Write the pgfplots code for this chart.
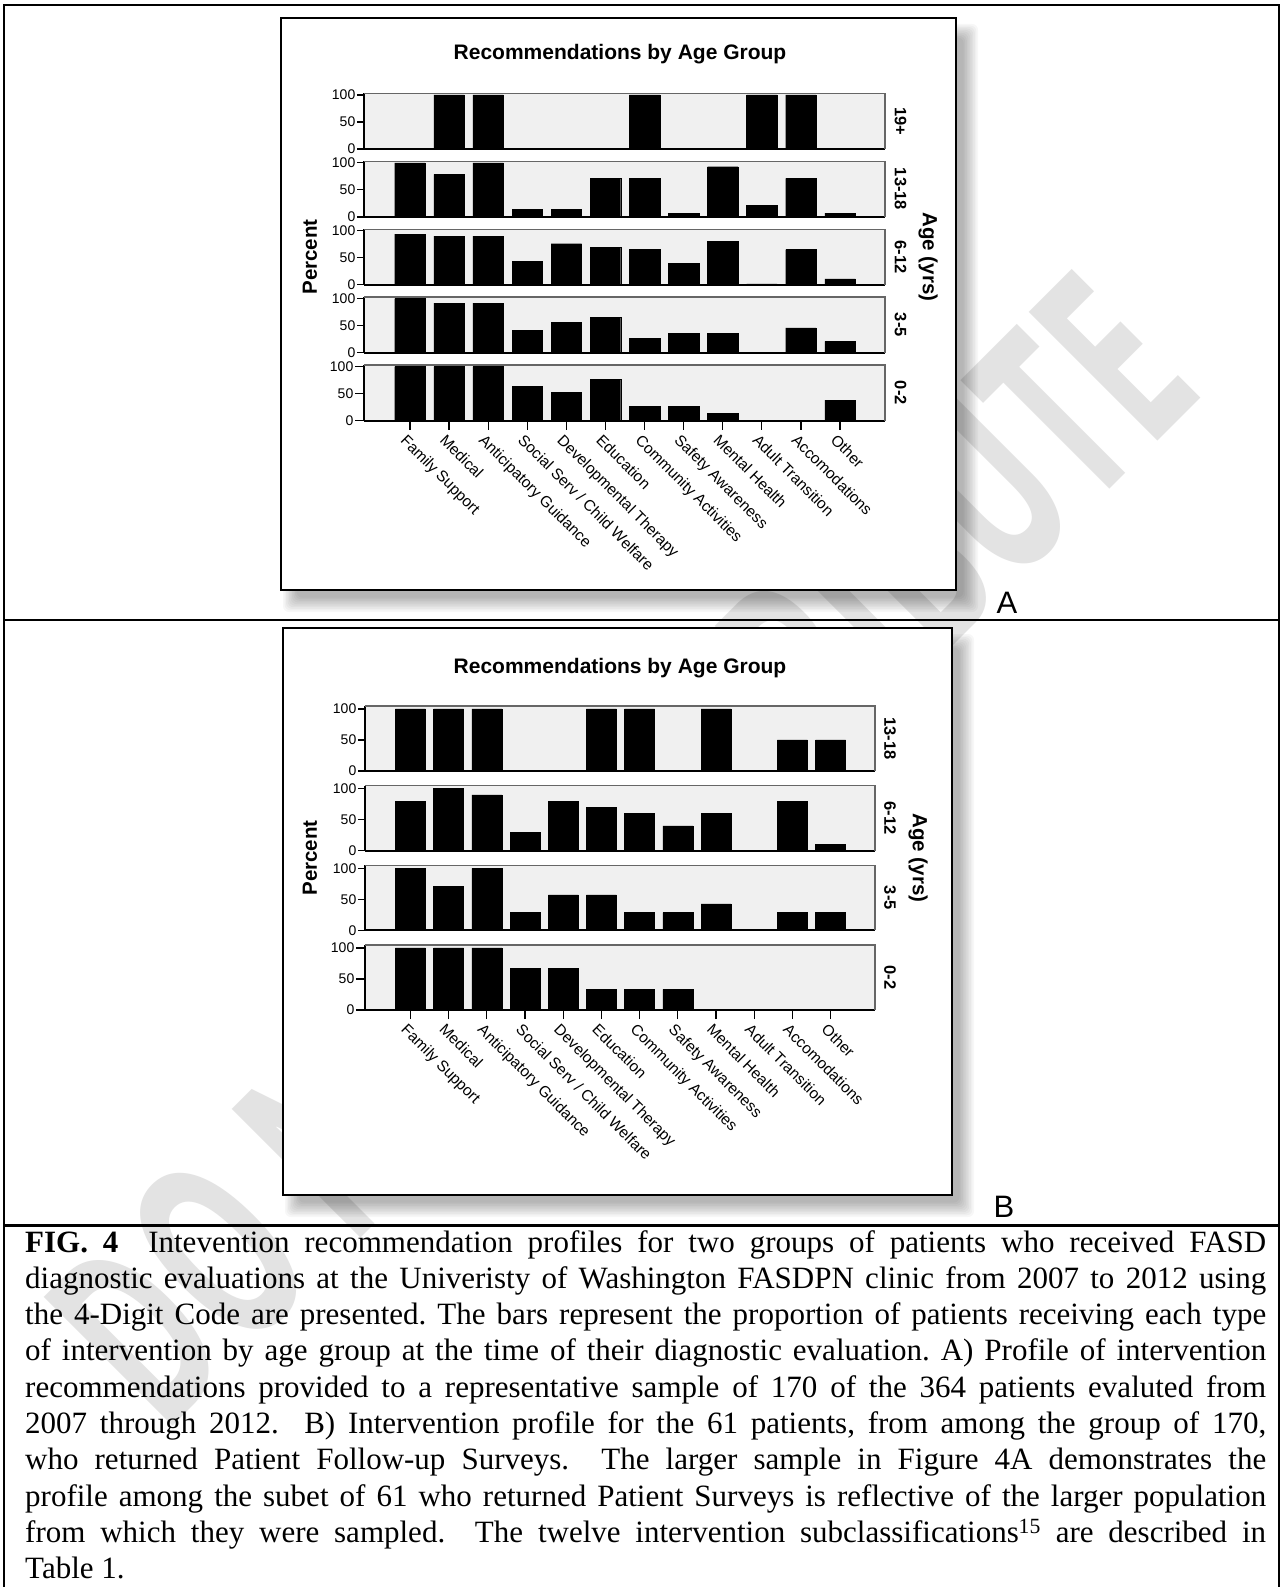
\documentclass[border=0pt]{standalone}
\usepackage{fontspec}
\setmainfont{Liberation Serif}
\newfontfamily\arial{Liberation Sans}
\newfontfamily\wmfont{Open Sans}
\usepackage{graphicx}
\usepackage{pgfplots}
\pgfplotsset{compat=1.18}
\usepackage{pgfplotstable}

% panel A: 170 patients (percent per age group)
\pgfplotstableread{
x  g19  g1318  g612  g35  g02
0  0    100    94    100  100
1  100  78.6   90    92   100
2  100  100    90    92   100
3  0    14.3   43    41   64
4  0    14.3   76    56   52
5  0    71.4   69    66   76
6  100  71.4   65    26   27
7  0    7.1    40    36   27
8  0    92.9   80    36   14
9  100  21.4   1.5   0    0
10 100  71.4   65    46   0
11 0    7.1    11    21   38
}\tabA

% panel B: 61 patients who returned surveys
\pgfplotstableread{
x  g1318  g612  g35   g02
0  100    80    100   100
1  100    100   71.4  100
2  100    90    100   100
3  0      30    28.6  66.7
4  0      80    57.1  66.7
5  100    70    57.1  33.3
6  100    60    28.6  33.3
7  0      40    28.6  33.3
8  100    60    42.9  0
9  0      0     0     0
10 50     80    28.6  0
11 50     10    28.6  0
}\tabB

\pgfplotsset{
  panel/.style={
    scale only axis, anchor=south west,
    ymin=0, ytick={0,50,100},
    axis x line*=bottom, axis y line*=left,
    axis line style={-},
    x axis line style={line width=2pt},
    y axis line style={line width=1.3pt},
    axis background/.style={fill=black!6},
    tick align=outside, major tick length=7pt,
    tick style={black, line width=1.2pt},
    yticklabel style={font=\arial\fontsize{14}{14}\selectfont, inner sep=1.5pt},
    /pgf/number format/assume math mode=true,
    xtick=\empty,
    extra description/.code={\draw[black!60, line width=1.2pt] (rel axis cs:0,1) -- (rel axis cs:1,1) -- (rel axis cs:1,0);},
  },
  panelA/.style={panel, width=521pt, height=55.7pt, xmin=-1.176, xmax=12.15, ymax=103.1},
  panelB/.style={panel, width=510pt, height=65pt, xmin=-1.19, xmax=12.16, ymax=104.8},
  cats/.style={
    xtick={0,...,11},
    major tick length=9pt,
    xticklabels={Family Support, Medical, Anticipatory Guidance, Social Serv / Child Welfare, Developmental Therapy, Education, Community Activities, Safety Awareness, Mental Health, Adult Transition, Accomodations, Other},
    xticklabel style={rotate=-45, anchor=north west, inner sep=0pt, xshift=1pt, yshift=-4pt, font=\arial\fontsize{15.5}{15.5}\selectfont},
  },
}

\newcommand\chartbox[4]{%
  \foreach \k in {0,...,9}{%
    \fill[black, opacity=0.033, rounded corners=6pt] ({#1+2+1.5*\k},{-(#2+6+1.5*\k)}) rectangle ({#3+22-1.6*\k},{-(#4+22-1.6*\k)});}
  \draw[line width=2.5pt, fill=white] (#1,-#2) rectangle (#3,-#4);}

\begin{document}
\begin{tikzpicture}[x=1pt,y=1pt]
\useasboundingbox (0,0) rectangle (1283,-1587);
\clip (0,0) rectangle (1283,-1587);
\fill[white] (0,0) rectangle (1283,-1587);

% watermark
\node[rotate=45, anchor=base east, inner sep=0pt, text=black!11] at (1207,-392)
  {\scalebox{0.58}[1]{\wmfont\bfseries\fontsize{255}{255}\selectfont DO NOT DISTRIBUTE}};

% table frame
\draw[line width=2.5pt] (4,-1600) -- (4,-5) -- (1279,-5) -- (1279,-1600);
\draw[line width=2.5pt] (4,-620) -- (1279,-620);
\draw[line width=3pt] (4,-1225) -- (1279,-1225);

\chartbox{281}{18}{956}{590}
\chartbox{283}{628}{952}{1195}

% ---------------- A ----------------
\node[font=\arial\bfseries\fontsize{21}{21}\selectfont] at (620,-54) {Recommendations by Age Group};

\begin{axis}[panelA, at={(364pt,-149pt)}]
\addplot[ybar, bar width=30.5pt, fill=black, draw=black] table[x=x, y=g19] {\tabA};
\end{axis}
\begin{axis}[panelA, at={(364pt,-216.9pt)}]
\addplot[ybar, bar width=30.5pt, fill=black, draw=black] table[x=x, y=g1318] {\tabA};
\end{axis}
\begin{axis}[panelA, at={(364pt,-284.8pt)}]
\addplot[ybar, bar width=30.5pt, fill=black, draw=black] table[x=x, y=g612] {\tabA};
\end{axis}
\begin{axis}[panelA, at={(364pt,-352.7pt)}]
\addplot[ybar, bar width=30.5pt, fill=black, draw=black] table[x=x, y=g35] {\tabA};
\end{axis}
\begin{axis}[panelA, cats, at={(364pt,-420.6pt)}]
\addplot[ybar, bar width=30.5pt, fill=black, draw=black] table[x=x, y=g02] {\tabA};
\end{axis}

\begin{scope}[font=\arial\bfseries\fontsize{16.5}{16.5}\selectfont]
\node[rotate=-90] at (900.5,-121.2) {19+};
\node[rotate=-90] at (900.5,-189) {13-18};
\node[rotate=-90] at (900.5,-257) {6-12};
\node[rotate=-90] at (900.5,-324.9) {3-5};
\node[rotate=-90] at (900.5,-392.8) {0-2};
\end{scope}
\node[rotate=-90, font=\arial\bfseries\fontsize{20.5}{20.5}\selectfont] at (928,-257) {Age (yrs)};
\node[rotate=90, font=\arial\bfseries\fontsize{20.5}{20.5}\selectfont] at (310,-257) {Percent};

\node[anchor=base, font=\arial\fontsize{31}{31}\selectfont] at (1007,-613) {A};

% ---------------- B ----------------
\node[font=\arial\bfseries\fontsize{21}{21}\selectfont] at (620,-668) {Recommendations by Age Group};

\begin{axis}[panelB, at={(365pt,-771pt)}]
\addplot[ybar, bar width=30pt, fill=black, draw=black] table[x=x, y=g1318] {\tabB};
\end{axis}
\begin{axis}[panelB, at={(365pt,-850.7pt)}]
\addplot[ybar, bar width=30pt, fill=black, draw=black] table[x=x, y=g612] {\tabB};
\end{axis}
\begin{axis}[panelB, at={(365pt,-930.4pt)}]
\addplot[ybar, bar width=30pt, fill=black, draw=black] table[x=x, y=g35] {\tabB};
\end{axis}
\begin{axis}[panelB, cats, at={(365pt,-1010pt)}]
\addplot[ybar, bar width=30pt, fill=black, draw=black] table[x=x, y=g02] {\tabB};
\end{axis}

\begin{scope}[font=\arial\bfseries\fontsize{16.5}{16.5}\selectfont]
\node[rotate=-90] at (890,-738.5) {13-18};
\node[rotate=-90] at (890,-818.2) {6-12};
\node[rotate=-90] at (890,-897.9) {3-5};
\node[rotate=-90] at (890,-977.6) {0-2};
\end{scope}
\node[rotate=-90, font=\arial\bfseries\fontsize{20.5}{20.5}\selectfont] at (918,-858) {Age (yrs)};
\node[rotate=90, font=\arial\bfseries\fontsize{20.5}{20.5}\selectfont] at (310,-858) {Percent};

\node[anchor=base, font=\arial\fontsize{31}{31}\selectfont] at (1004,-1217) {B};

% ---------------- caption ----------------
\node[anchor=base west, inner sep=0pt] at (25,-1252) {\parbox[t]{1241pt}{\hbadness=10000\frenchspacing\fontsize{31}{36.3}\selectfont
\textbf{FIG. 4}~ Intevention recommendation profiles for two groups of patients who received FASD\linebreak
diagnostic evaluations at the Univeristy of Washington FASDPN clinic from 2007 to 2012 using\linebreak
the 4-Digit Code are presented. The bars represent the proportion of patients receiving each type\linebreak
of intervention by age group at the time of their diagnostic evaluation. A) Profile of intervention\linebreak
recommendations provided to a representative sample of 170 of the 364 patients evaluted from\linebreak
2007 through 2012.~ B) Intervention profile for the 61 patients, from among the group of 170,\linebreak
who returned Patient Follow-up Surveys.~ The larger sample in Figure 4A demonstrates the\linebreak
profile among the subet of 61 who returned Patient Surveys is reflective of the larger population\linebreak
from which they were sampled.~ The twelve intervention subclassifications\textsuperscript{15} are described in\linebreak
Table 1.}};
\end{tikzpicture}
\end{document}
